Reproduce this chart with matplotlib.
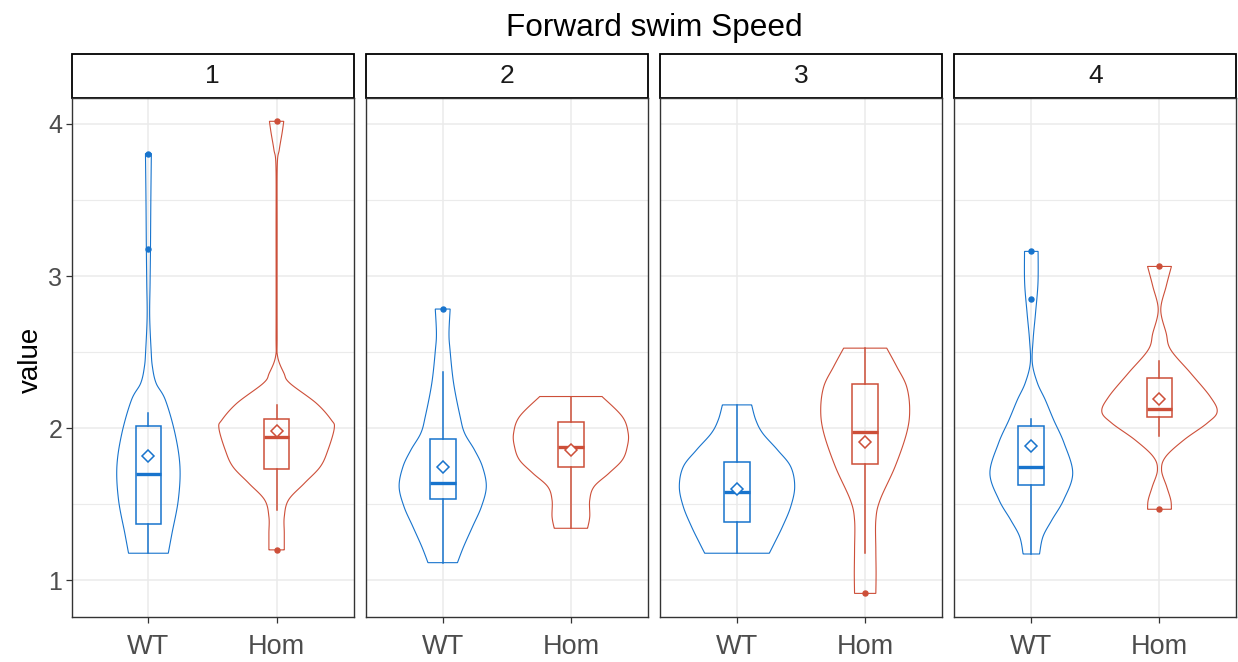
import numpy as np
import matplotlib
matplotlib.use("Agg")
import matplotlib.pyplot as plt
from matplotlib.patches import Rectangle
from matplotlib.ticker import MultipleLocator

plt.rcParams['font.family'] = ['Liberation Sans', 'DejaVu Sans']

facets = ["1", "2", "3", "4"]
groups = ["WT", "Hom"]
colors = {"WT": "#1874CD", "Hom": "#CD4F39"}

# violin outlines: (value, half width in x units)
violin_y = {
    ("1", "WT"): [3.805, 3.502, 3.173, 2.954, 2.734, 2.515, 2.405, 2.296, 2.186, 1.967, 1.747, 1.528, 1.309, 1.178],
    ("1", "Hom"): [4.017, 3.941, 3.831, 3.721, 3.283, 2.625, 2.471, 2.362, 2.296, 2.164, 2.055, 2.0, 1.857, 1.747, 1.638, 1.528, 1.418, 1.309, 1.2],
    ("2", "WT"): [2.783, 2.625, 2.515, 2.296, 2.076, 1.967, 1.857, 1.747, 1.616, 1.484, 1.353, 1.221, 1.116],
    ("2", "Hom"): [2.208, 2.076, 1.967, 1.879, 1.791, 1.704, 1.616, 1.528, 1.418, 1.342],
    ("3", "WT"): [2.153, 2.055, 1.967, 1.857, 1.747, 1.616, 1.484, 1.353, 1.243, 1.178],
    ("3", "Hom"): [2.526, 2.405, 2.274, 2.120, 1.967, 1.747, 1.528, 1.397, 1.2, 1.046, 0.914],
    ("4", "WT"): [3.162, 2.954, 2.757, 2.581, 2.428, 2.296, 2.186, 2.055, 1.901, 1.704, 1.528, 1.397, 1.287, 1.173],
    ("4", "Hom"): [3.063, 2.932, 2.778, 2.625, 2.515, 2.362, 2.208, 2.109, 2.033, 1.923, 1.813, 1.725, 1.616, 1.528, 1.467],
}
violin_w = {
    ("1", "WT"): [0.023, 0.019, 0.016, 0.013, 0.010, 0.021, 0.031, 0.060, 0.132, 0.207, 0.246, 0.233, 0.184, 0.155],
    ("1", "Hom"): [0.056, 0.043, 0.021, 0.005, 0.004, 0.004, 0.008, 0.057, 0.103, 0.310, 0.426, 0.450, 0.401, 0.341, 0.217, 0.093, 0.060, 0.060, 0.060],
    ("2", "WT"): [0.058, 0.049, 0.057, 0.085, 0.136, 0.171, 0.248, 0.310, 0.340, 0.302, 0.233, 0.163, 0.115],
    ("2", "Hom"): [0.243, 0.401, 0.447, 0.440, 0.401, 0.297, 0.181, 0.147, 0.147, 0.130],
    ("3", "WT"): [0.114, 0.146, 0.200, 0.316, 0.419, 0.450, 0.419, 0.355, 0.291, 0.252],
    ("3", "Hom"): [0.168, 0.246, 0.323, 0.347, 0.323, 0.233, 0.116, 0.083, 0.083, 0.085, 0.083],
    ("4", "WT"): [0.053, 0.052, 0.033, 0.014, 0.008, 0.048, 0.109, 0.174, 0.256, 0.323, 0.252, 0.161, 0.091, 0.064],
    ("4", "Hom"): [0.093, 0.052, 0.010, 0.052, 0.088, 0.243, 0.395, 0.450, 0.372, 0.191, 0.049, 0.016, 0.056, 0.088, 0.093],
}

# boxplot stats: whisker low, q1, median, q3, whisker high, mean
box_lo = {("1", "WT"): 1.178, ("1", "Hom"): 1.463, ("2", "WT"): 1.116, ("2", "Hom"): 1.342,
          ("3", "WT"): 1.178, ("3", "Hom"): 1.178, ("4", "WT"): 1.173, ("4", "Hom"): 1.949}
box_q1 = {("1", "WT"): 1.368, ("1", "Hom"): 1.734, ("2", "WT"): 1.537, ("2", "Hom"): 1.747,
          ("3", "WT"): 1.386, ("3", "Hom"): 1.763, ("4", "WT"): 1.627, ("4", "Hom"): 2.076}
box_med = {("1", "WT"): 1.697, ("1", "Hom"): 1.941, ("2", "WT"): 1.638, ("2", "Hom"): 1.873,
           ("3", "WT"): 1.583, ("3", "Hom"): 1.978, ("4", "WT"): 1.747, ("4", "Hom"): 2.125}
box_q3 = {("1", "WT"): 2.011, ("1", "Hom"): 2.059, ("2", "WT"): 1.928, ("2", "Hom"): 2.043,
          ("3", "WT"): 1.776, ("3", "Hom"): 2.293, ("4", "WT"): 2.017, ("4", "Hom"): 2.333}
box_hi = {("1", "WT"): 2.103, ("1", "Hom"): 2.153, ("2", "WT"): 2.372, ("2", "Hom"): 2.208,
          ("3", "WT"): 2.153, ("3", "Hom"): 2.526, ("4", "WT"): 2.059, ("4", "Hom"): 2.443}
means = {("1", "WT"): 1.818, ("1", "Hom"): 1.982, ("2", "WT"): 1.747, ("2", "Hom"): 1.857,
         ("3", "WT"): 1.598, ("3", "Hom"): 1.912, ("4", "WT"): 1.886, ("4", "Hom"): 2.193}
outliers = {("1", "WT"): [3.805, 3.18], ("1", "Hom"): [4.017, 1.2], ("2", "WT"): [2.783], ("2", "Hom"): [],
            ("3", "WT"): [], ("3", "Hom"): [0.914], ("4", "WT"): [3.162, 2.849], ("4", "Hom"): [3.063, 1.467]}


def smooth(ys, ws, n=14):
    # catmull-rom through the read points, just for a rounder outline
    pts = np.column_stack([ys, ws])
    p = np.vstack([pts[0], pts, pts[-1]])
    out = []
    t = np.linspace(0, 1, n, endpoint=False)[:, None]
    for i in range(1, len(p) - 2):
        p0, p1, p2, p3 = p[i - 1], p[i], p[i + 1], p[i + 2]
        out.append(0.5 * (2 * p1 + (-p0 + p2) * t + (2 * p0 - 5 * p1 + 4 * p2 - p3) * t ** 2
                          + (-p0 + 3 * p1 - 3 * p2 + p3) * t ** 3))
    out.append(pts[-1:])
    s = np.vstack(out)
    s[:, 1] = np.clip(s[:, 1], 0.002, None)
    return s[:, 0], s[:, 1]


W, H = 1238, 662
fig = plt.figure(figsize=(W / 100, H / 100), dpi=100)

left, pw, gap = 71.5, 282.0, 12.3
top, bottom = 97.7, 617.0
strip_h = 43.4

all_vals = []
for k in violin_y:
    all_vals += violin_y[k] + outliers[k]
lo, hi = min(all_vals), max(all_vals)
pad = 0.05 * (hi - lo)

grid_c = "#EBEBEB"
for i, f in enumerate(facets):
    x0 = left + i * (pw + gap)
    ax = fig.add_axes([x0 / W, (H - bottom) / H, pw / W, (bottom - top) / H])
    ax.set_xlim(0.4, 2.6)
    ax.set_ylim(lo - pad, hi + pad)
    ax.yaxis.set_major_locator(MultipleLocator(1))
    ax.yaxis.set_minor_locator(MultipleLocator(0.5))
    ax.set_xticks([1, 2])
    ax.set_xticklabels(groups)
    ax.grid(True, which="major", color=grid_c, lw=1.1)
    ax.grid(True, which="minor", axis="y", color=grid_c, lw=0.8)
    ax.set_axisbelow(True)
    for s in ax.spines.values():
        s.set_color("#333333")
        s.set_linewidth(1.0)
    ax.tick_params(axis="x", length=4, width=0.9, color="#333333", labelsize=19.5,
                   labelcolor="#4D4D4D", pad=8.5)
    ax.tick_params(axis="y", which="major", length=4, width=0.9, color="#333333",
                   labelsize=18, labelcolor="#4D4D4D", pad=2.5)
    ax.tick_params(axis="y", which="minor", length=0)
    if i > 0:
        ax.tick_params(axis="y", which="major", length=0, labelleft=False)

    for j, g in enumerate(groups):
        key = (f, g)
        c = colors[g]
        xc = j + 1
        ys, ws = smooth(violin_y[key][::-1], violin_w[key][::-1])
        xs = np.concatenate([xc + ws, (xc - ws)[::-1]])
        yy = np.concatenate([ys, ys[::-1]])
        ax.fill(xs, yy, facecolor="none", edgecolor=c, lw=0.8, zorder=2)

        ax.add_patch(Rectangle((xc - 0.1, box_q1[key]), 0.2, box_q3[key] - box_q1[key],
                               facecolor="none", edgecolor=c, lw=1.1, zorder=3))
        ax.plot([xc, xc], [box_lo[key], box_q1[key]], color=c, lw=1.1, zorder=3)
        ax.plot([xc, xc], [box_q3[key], box_hi[key]], color=c, lw=1.1, zorder=3)
        ax.plot([xc - 0.1, xc + 0.1], [box_med[key]] * 2, color=c, lw=2.4,
                solid_capstyle="butt", zorder=3)
        ax.plot(xc, means[key], marker="D", ms=6.5, mfc="white", mec=c, mew=1.1,
                ls="none", zorder=4)
        if outliers[key]:
            ax.plot([xc] * len(outliers[key]), outliers[key], "o", ms=3.6, color=c, zorder=4)

    # facet strip
    ax.add_patch(Rectangle((0, 1), 1, strip_h / (bottom - top), transform=ax.transAxes,
                           facecolor="white", edgecolor="black", lw=1.3, clip_on=False))
    ax.text(0.5, 1 + strip_h / 2 / (bottom - top), f, transform=ax.transAxes,
            ha="center", va="center", fontsize=19, color="#1A1A1A")

fig.text(31 / W, 1 - 360 / H, "value", rotation=90, ha="center", va="center", fontsize=20)
fig.text((left + (4 * pw + 3 * gap) / 2) / W, 1 - 35.7 / H, "Forward swim Speed",
         ha="center", va="baseline", fontsize=22.7)

fig.savefig("out.png", dpi=100)
